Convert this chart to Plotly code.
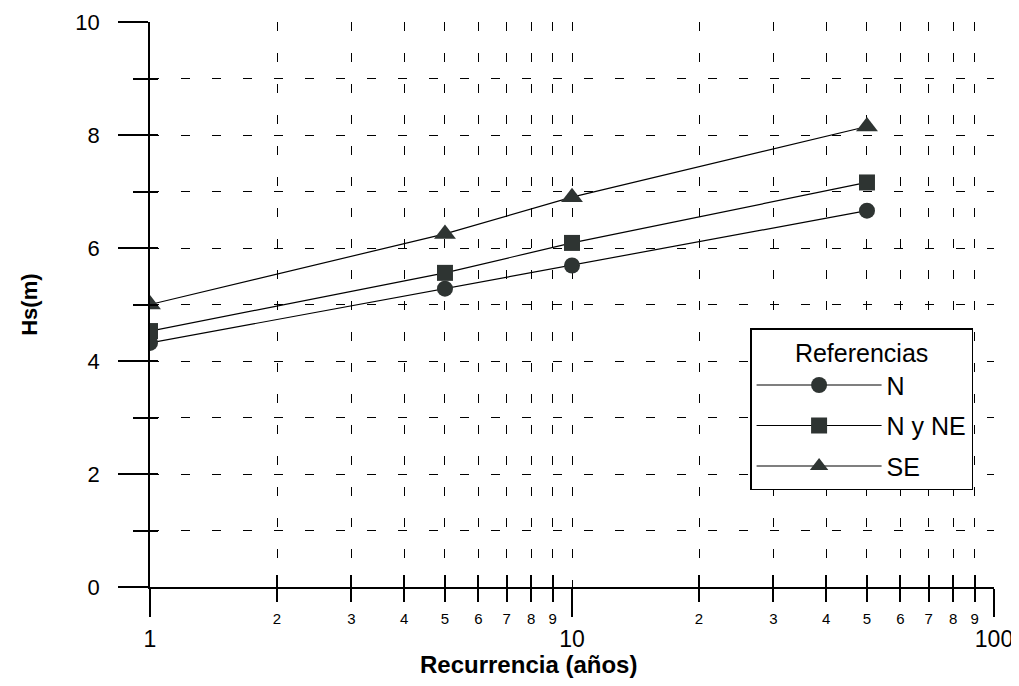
import plotly.graph_objects as go

# Data
recurrencia = [1, 5, 10, 50]
hs_N = [4.32, 5.28, 5.69, 6.66]
hs_NyNE = [4.53, 5.56, 6.09, 7.16]
hs_SE = [5.00, 6.25, 6.90, 8.15]

series_names = ["N", "N y NE", "SE"]
series_symbols = ["circle", "square", "triangle-up"]
series_sizes = [16, 16, 19]

x_major = [1, 10, 100]
x_major_text = ["1", "10", "100"]
x_minor = [2, 3, 4, 5, 6, 7, 8, 9, 20, 30, 40, 50, 60, 70, 80, 90]
x_minor_text = ["2", "3", "4", "5", "6", "7", "8", "9"] * 2
y_major = [0, 2, 4, 6, 8, 10]
y_minor = [1, 3, 5, 7, 9]

MARK = "#2e3432"
FONT = "Liberation Sans, Arial, sans-serif"
GRIDDASH = "9px,22px"

fig = go.Figure()
for name, ys, sym, sz in zip(series_names, [hs_N, hs_NyNE, hs_SE], series_symbols, series_sizes):
    fig.add_trace(go.Scatter(
        x=recurrencia, y=ys, name=name, mode="lines+markers",
        line=dict(color="black", width=1.2),
        marker=dict(symbol=sym, size=sz, color=MARK, line=dict(width=0)),
        legendgroup=name,
    ))

# invisible trace for the secondary (minor label / crossing tick) axes
fig.add_trace(go.Scatter(x=[1, 100], y=[0, 10], xaxis="x2", yaxis="y2",
                         mode="markers", marker=dict(opacity=0), showlegend=False,
                         hoverinfo="skip"))

# the page body adds an 8px offset, so the figure is sized 8px smaller
fig.update_layout(
    width=1011, height=678,
    margin=dict(l=142, r=25, t=14, b=99),
    plot_bgcolor="white", paper_bgcolor="white",
    font=dict(family=FONT, color="black"),
    showlegend=True,
    xaxis=dict(
        type="log", range=[0, 2], automargin=False,
        tickmode="array", tickvals=x_major, ticktext=x_major_text,
        ticks="outside", ticklen=28, tickwidth=1.5, tickcolor="black",
        tickfont=dict(family=FONT, size=23),
        ticklabelstandoff=3,
        showline=True, linecolor="black", linewidth=1.5,
        showgrid=True, gridcolor="black", gridwidth=1.3, griddash=GRIDDASH,
        zeroline=False,
        minor=dict(tickmode="array", tickvals=x_minor, ticks="outside", ticklen=13,
                   tickwidth=1.5, tickcolor="black",
                   showgrid=True, gridcolor="black", gridwidth=1.3, griddash=GRIDDASH),
    ),
    xaxis2=dict(
        type="log", range=[0, 2], overlaying="x", anchor="y2", side="bottom",
        automargin=False,
        tickmode="array", tickvals=x_minor, ticktext=x_minor_text,
        ticks="inside", ticklen=12, tickwidth=1.5, tickcolor="black",
        tickfont=dict(family=FONT, size=15),
        ticklabelstandoff=21,
        showline=False, showgrid=False, zeroline=False,
    ),
    yaxis=dict(
        range=[0, 10], automargin=False,
        tickmode="array", tickvals=y_major,
        ticks="outside", ticklen=30, tickwidth=1.5, tickcolor="black",
        tickfont=dict(family=FONT, size=22),
        ticklabelstandoff=14,
        showline=True, linecolor="black", linewidth=1.5,
        showgrid=True, gridcolor="black", gridwidth=1.3, griddash=GRIDDASH,
        zeroline=False,
        minor=dict(tickmode="array", tickvals=y_minor, ticks="outside", ticklen=15,
                   tickwidth=1.5, tickcolor="black",
                   showgrid=True, gridcolor="black", gridwidth=1.3, griddash=GRIDDASH),
    ),
    yaxis2=dict(
        range=[0, 10], overlaying="y", anchor="x2", side="left", automargin=False,
        tickmode="array", tickvals=y_major + y_minor,
        ticks="inside", ticklen=8, tickwidth=1.5, tickcolor="black",
        showticklabels=False, showline=False, showgrid=False, zeroline=False,
    ),
    legend=dict(
        x=0.711, y=0.458, xanchor="left", yanchor="top",
        bgcolor="white", bordercolor="black", borderwidth=1.5,
        font=dict(family=FONT, size=25),
        title=dict(text="Referencias", side="top center", font=dict(family=FONT, size=25)),
        itemsizing="trace", itemwidth=125, tracegroupgap=5,
    ),
    annotations=[
        dict(text="<b>Recurrencia (años)</b>", xref="paper", yref="paper",
             x=0.448, y=-0.138, xanchor="center", yanchor="middle", showarrow=False,
             font=dict(family=FONT, size=24)),
        dict(text="<b>Hs(m)</b>", xref="paper", yref="paper",
             x=-0.143, y=0.5, xanchor="center", yanchor="middle", showarrow=False,
             textangle=-90, font=dict(family=FONT, size=22)),
    ],
)

fig.write_html("out.html")
